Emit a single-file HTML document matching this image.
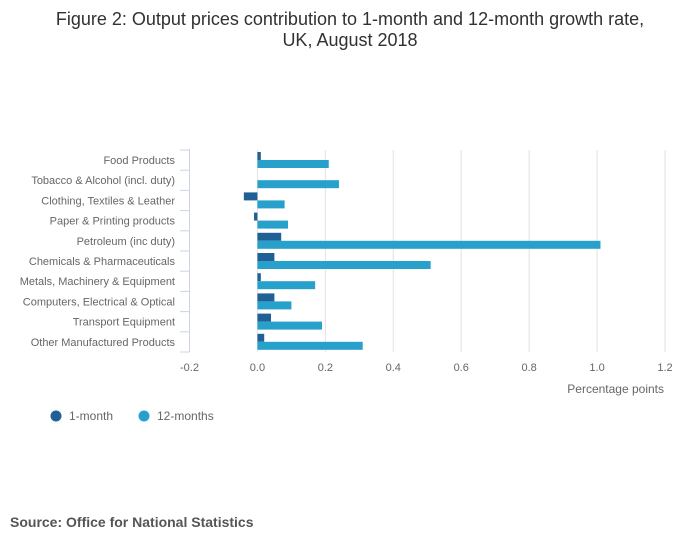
<!DOCTYPE html>
<html><head><meta charset="utf-8"><style>
body{margin:0;background:#fff;font-family:"Liberation Sans",sans-serif;}
svg text{font-family:"Liberation Sans",sans-serif;}
</style></head><body>
<svg width="700" height="549" id="c">
<text x="350" y="25" text-anchor="middle" font-size="18" fill="#323132">Figure 2: Output prices contribution to 1-month and 12-month growth rate,</text>
<text x="350" y="46" text-anchor="middle" font-size="18" fill="#323132">UK, August 2018</text>
<g id="grid"></g><g id="bars"></g><g id="axes"></g>
<text x="664" y="393" text-anchor="end" font-size="12" fill="#666">Percentage points</text>
<g>
<circle cx="56" cy="416" r="5.5" fill="#206095"/>
<text x="69" y="420" font-size="12" fill="#666">1-month</text>
<circle cx="144" cy="416" r="5.5" fill="#27a0cc"/>
<text x="157" y="420" font-size="12" fill="#666">12-months</text>
</g>
<text x="10" y="527" font-size="14" font-weight="bold" fill="#555">Source: Office for National Statistics</text>
</svg>
<script>
const categories=["Food Products","Tobacco & Alcohol (incl. duty)","Clothing, Textiles & Leather","Paper & Printing products","Petroleum (inc duty)","Chemicals & Pharmaceuticals","Metals, Machinery & Equipment","Computers, Electrical & Optical","Transport Equipment","Other Manufactured Products"];
const oneMonth=[0.01,0,-0.04,-0.01,0.07,0.05,0.01,0.05,0.04,0.02];
const twelveMonths=[0.21,0.24,0.08,0.09,1.01,0.51,0.17,0.10,0.19,0.31];
const xTicks=[-0.2,0,0.2,0.4,0.6,0.8,1.0,1.2];
const xTickLabels=["-0.2","0.0","0.2","0.4","0.6","0.8","1.0","1.2"];
const NS="http://www.w3.org/2000/svg";
const x0=189.5,x1=665,vmin=-0.2,vmax=1.2,plotTop=150,rowH=20.2;
const X=v=>x0+(v-vmin)/(vmax-vmin)*(x1-x0);
const Y=i=>plotTop+i*rowH;
function mk(t,a,p){const e=document.createElementNS(NS,t);for(const k in a)e.setAttribute(k,a[k]);document.getElementById(p).appendChild(e);return e;}
xTicks.forEach((v,i)=>{
 if(v!==vmin){const l=mk('line',{x1:X(v),x2:X(v),y1:plotTop,y2:plotTop+rowH*categories.length,stroke:'#e2e2e3'},'grid');
 
 }
 const t=mk('text',{x:X(v),y:371,'text-anchor':'middle','font-size':11,fill:'#666'},'axes');t.textContent=xTickLabels[i];
 
 
});
const ax=mk('line',{x1:x0,x2:x0,y1:plotTop-1,y2:plotTop+rowH*categories.length,stroke:'#ccd3e6'},'axes');


for(let i=0;i<=categories.length;i++){const tk=mk('line',{x1:180,x2:x0,y1:Y(i),y2:Y(i),stroke:'#ccd3e6'},'axes');
 
 }
categories.forEach((c,i)=>{
 const t=mk('text',{x:175,y:Y(i)+14,'text-anchor':'end','font-size':11,fill:'#666'},'axes');t.textContent=c;
 
 
 const a=oneMonth[i],b=twelveMonths[i];
 const r1=mk('rect',{x:Math.min(X(0),X(a)),y:Y(i)+2,width:Math.abs(X(a)-X(0)),height:8,fill:'#206095'},'bars');
 
 
 const r2=mk('rect',{x:Math.min(X(0),X(b)),y:Y(i)+10,width:Math.abs(X(b)-X(0)),height:8,fill:'#27a0cc'},'bars');
 
 
});
</script>
</body></html>
